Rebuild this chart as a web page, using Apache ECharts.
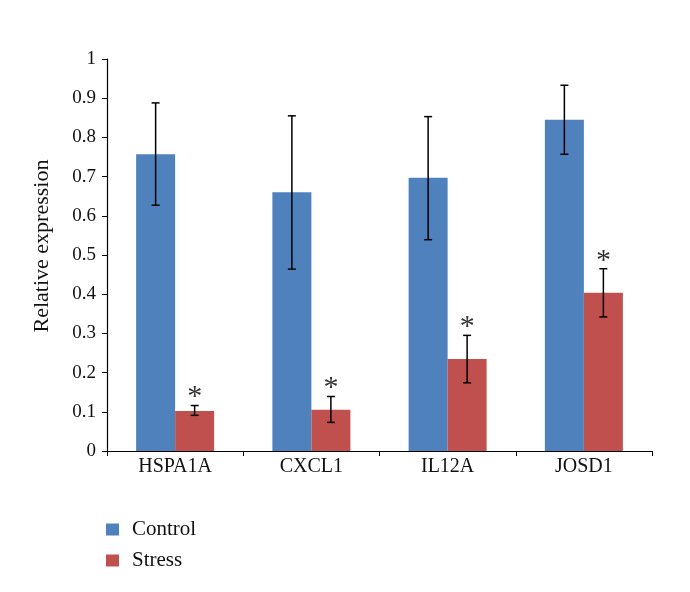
<!DOCTYPE html>
<html>
<head>
<meta charset="utf-8">
<script src="https://cdn.jsdelivr.net/npm/echarts@6/dist/echarts.min.js"></script>
<style>
  html, body { margin: 0; padding: 0; background: #fff; }
  #chart { width: 690px; height: 592px; }
</style>
</head>
<body>
<div id="chart"></div>
<script>
  // values
  let genes = ['HSPA1A', 'CXCL1', 'IL12A', 'JOSD1'];
  let controlMean = [0.757, 0.660, 0.697, 0.845];
  let controlLow = [0.627, 0.464, 0.539, 0.757];
  let controlHigh = [0.888, 0.855, 0.853, 0.933];
  let stressMean = [0.102, 0.105, 0.235, 0.404];
  let stressLow = [0.091, 0.073, 0.174, 0.342];
  let stressHigh = [0.116, 0.139, 0.295, 0.465];
  let yTicks = [0, 0.1, 0.2, 0.3, 0.4, 0.5, 0.6, 0.7, 0.8, 0.9, 1];

  let barW = 39;
  let font = '"Liberation Serif", "DejaVu Serif", serif';

  function errorData(low, high) {
    return genes.map(function (g, i) {
      return [i, low[i], high[i]];
    });
  }

  function errorBar(shift, star) {
    return function (params, api) {
      let idx = api.value(0);
      let top = api.coord([idx, api.value(2)]);
      let bot = api.coord([idx, api.value(1)]);
      let x = top[0] + shift;
      let cap = 4;
      let style = { stroke: '#000', lineWidth: 1.5 };
      let children = [
        { type: 'line', shape: { x1: x, y1: top[1], x2: x, y2: bot[1] }, style: style },
        { type: 'line', shape: { x1: x - cap, y1: top[1], x2: x + cap, y2: top[1] }, style: style },
        { type: 'line', shape: { x1: x - cap, y1: bot[1], x2: x + cap, y2: bot[1] }, style: style }
      ];
      if (star) {
        children.push({
          type: 'text',
          x: x,
          y: top[1] + 7,
          style: {
            text: '*',
            fill: '#333',
            font: '30px ' + font,
            align: 'center',
            verticalAlign: 'bottom'
          }
        });
      }
      return { type: 'group', children: children };
    };
  }

  let chart = echarts.init(document.getElementById('chart'));
  chart.setOption({
    animation: false,
    backgroundColor: '#fff',
    textStyle: { fontFamily: font },
    grid: { left: 107, right: 38, top: 59, bottom: 141 },
    legend: {
      orient: 'vertical',
      left: 101,
      top: 514,
      icon: 'rect',
      itemWidth: 13,
      itemHeight: 12,
      itemGap: 10,
      data: ['Control', 'Stress'],
      textStyle: { fontSize: 21, color: '#111', fontFamily: font, padding: [0, 0, 0, 8] }
    },
    xAxis: {
      type: 'category',
      data: genes,
      axisLine: { lineStyle: { color: '#000', width: 1.2 } },
      axisTick: { show: true, length: 5, inside: false, lineStyle: { color: '#000' } },
      axisLabel: { color: '#111', fontSize: 20, margin: 6, fontFamily: font }
    },
    yAxis: {
      type: 'value',
      min: 0,
      max: 1,
      interval: 0.1,
      name: 'Relative expression',
      nameLocation: 'middle',
      nameGap: 54,
      nameTextStyle: { fontSize: 22, color: '#111', fontFamily: font, padding: [0, 0, 0, 18] },
      splitLine: { show: false },
      axisLine: { show: true, lineStyle: { color: '#000', width: 1.2 } },
      axisTick: { show: true, length: 5, lineStyle: { color: '#000' } },
      axisLabel: {
        color: '#111',
        fontSize: 19,
        margin: 11,
        fontFamily: font,
        formatter: function (v) {
          let t = yTicks.find(function (k) { return Math.abs(k - v) < 1e-6; });
          return t === undefined ? '' : String(t);
        }
      }
    },
    series: [
      {
        name: 'Control',
        type: 'bar',
        barWidth: barW,
        barGap: '0%',
        itemStyle: { color: '#4F81BD' },
        data: controlMean
      },
      {
        name: 'Stress',
        type: 'bar',
        barWidth: barW,
        barGap: '0%',
        itemStyle: { color: '#C0504D' },
        data: stressMean
      },
      {
        type: 'custom',
        renderItem: errorBar(-barW / 2, false),
        data: errorData(controlLow, controlHigh),
        z: 5
      },
      {
        type: 'custom',
        renderItem: errorBar(barW / 2, true),
        data: errorData(stressLow, stressHigh),
        z: 5
      }
    ]
  });
</script>
</body>
</html>
